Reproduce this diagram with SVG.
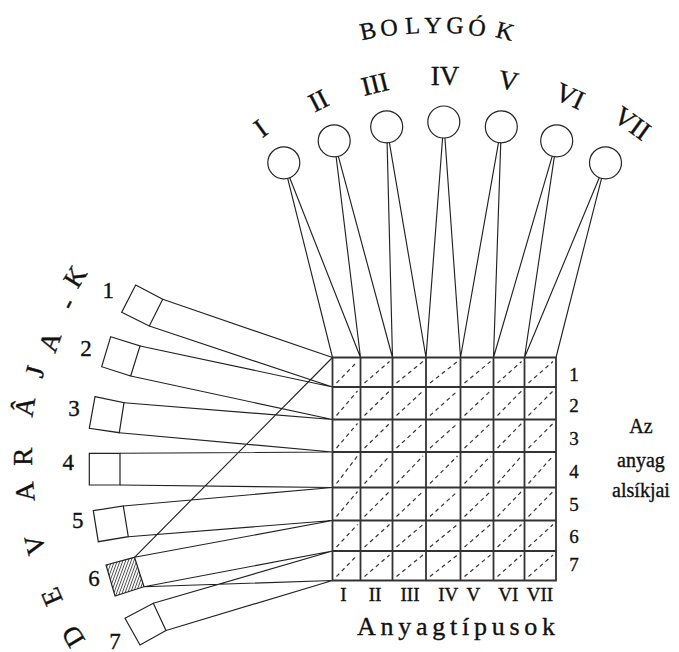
<svg xmlns="http://www.w3.org/2000/svg" width="679" height="652" viewBox="0 0 679 652">
<style>
text{font-family:"Liberation Serif","DejaVu Serif",serif;fill:#111;stroke:#111;stroke-width:0.35}
.c{stroke:#222;stroke-width:1.15;fill:none}
.g{stroke:#333;stroke-width:1.8;fill:none}
.d{stroke:#333;stroke-width:1.2;fill:none;stroke-dasharray:4 3.5}
.n{stroke:#222;stroke-width:1.2;fill:#fff}
.pl{font-size:27px;text-anchor:middle}
.bl{font-size:24px;text-anchor:middle}
.dv{font-size:27px;text-anchor:middle}
.num{font-size:23px;text-anchor:middle}
.rl{font-size:19px;text-anchor:middle}
.side{font-size:20px;text-anchor:middle}
</style>
<defs>
<pattern id="hatch" width="2.6" height="10" patternUnits="userSpaceOnUse" patternTransform="rotate(20)">
<line x1="0.5" y1="0" x2="0.5" y2="10" stroke="#222" stroke-width="0.8"/>
</pattern>
</defs>
<rect width="679" height="652" fill="#fff"/>

<g id="connectors" class="c">
<path d="M283.8 162.8L332.5 357.5M283.8 162.8L360.5 357.5
M334.2 140.8L360.5 357.5M334.2 140.8L392.5 357.5
M386.7 126.8L392.5 357.5M386.7 126.8L426 357.5
M443.8 122L426 357.5M443.8 122L460.5 357.5
M501.3 126.8L460.5 357.5M501.3 126.8L493.5 357.5
M556.7 140.8L493.5 357.5M556.7 140.8L524.5 357.5
M605.5 162.8L524.5 357.5M605.5 162.8L556 357.5"/>
<path d="M162.7 299.3L332.5 357.5M149.3 326L332.5 387
M140 346L332.5 387M130.7 376L332.5 419.5
M124 402.7L332.5 419.5M119.3 432.7L332.5 452
M120 453.3L332.5 452M120 485L332.5 487.5
M123.3 506L332.5 487.5M128.3 536.7L332.5 520.5
M134.5 557.3L332.5 520.5M144 586.7L332.5 551M144 586.7L332.5 580.5
M134.5 557.3L332.5 357.5
M153.3 603.3L332.5 551M166 630.5L332.5 580.5"/>
</g>

<g id="grid">
<path class="d" d="M336.5 383L357.5 361.5M364.5 383L389.5 361.5M396.5 383L423 361.5M430 383L457.5 361.5M464.5 383L490.5 361.5M497.5 383L521.5 361.5M528.5 383L553 361.5
M336.5 415.5L357.5 391M364.5 415.5L389.5 391M396.5 415.5L423 391M430 415.5L457.5 391M464.5 415.5L490.5 391M497.5 415.5L521.5 391M528.5 415.5L553 391
M336.5 448L357.5 423.5M364.5 448L389.5 423.5M396.5 448L423 423.5M430 448L457.5 423.5M464.5 448L490.5 423.5M497.5 448L521.5 423.5M528.5 448L553 423.5
M336.5 483.5L357.5 456M364.5 483.5L389.5 456M396.5 483.5L423 456M430 483.5L457.5 456M464.5 483.5L490.5 456M497.5 483.5L521.5 456M528.5 483.5L553 456
M336.5 516.5L357.5 491.5M364.5 516.5L389.5 491.5M396.5 516.5L423 491.5M430 516.5L457.5 491.5M464.5 516.5L490.5 491.5M497.5 516.5L521.5 491.5M528.5 516.5L553 491.5
M336.5 547L357.5 524.5M364.5 547L389.5 524.5M396.5 547L423 524.5M430 547L457.5 524.5M464.5 547L490.5 524.5M497.5 547L521.5 524.5M528.5 547L553 524.5
M336.5 576.5L357.5 555M364.5 576.5L389.5 555M396.5 576.5L423 555M430 576.5L457.5 555M464.5 576.5L490.5 555M497.5 576.5L521.5 555M528.5 576.5L553 555"/>
<path class="g" d="M332.5 357.5H556V580.5H332.5Z
M360.5 357.5V580.5M392.5 357.5V580.5M426 357.5V580.5M460.5 357.5V580.5M493.5 357.5V580.5M524.5 357.5V580.5
M332.5 387H556M332.5 419.5H556M332.5 452H556M332.5 487.5H556M332.5 520.5H556M332.5 551H556"/>
<text class="rl" x="343.3" y="601">I</text>
<text class="rl" x="375" y="601">II</text>
<text class="rl" x="410" y="601">III</text>
<text class="rl" x="448.3" y="601">IV</text>
<text class="rl" x="473.3" y="601">V</text>
<text class="rl" x="508.3" y="601">VI</text>
<text class="rl" x="540" y="601">VII</text>
<text class="rl" x="574" y="380.5">1</text>
<text class="rl" x="574" y="411.5">2</text>
<text class="rl" x="574" y="444.5">3</text>
<text class="rl" x="574" y="477.5">4</text>
<text class="rl" x="574" y="511">5</text>
<text class="rl" x="574" y="542.5">6</text>
<text class="rl" x="574" y="570.5">7</text>
</g>

<g id="label-anyagtipusok">
<text x="357" y="634.5" font-size="26" textLength="198" lengthAdjust="spacing">Anyagtípusok</text>
</g>
<g id="label-alsikjai">
<text class="side" x="641" y="433">Az</text>
<text class="side" x="641" y="467">anyag</text>
<text class="side" x="641" y="497">alsíkjai</text>
</g>

<g id="planet-1"><circle class="n" cx="283.8" cy="162.8" r="16"/><text class="pl" transform="translate(260.7 128.3) rotate(-36)" y="9">I</text></g>
<g id="planet-2"><circle class="n" cx="334.2" cy="140.8" r="16"/><text class="pl" transform="translate(318.3 100.7) rotate(-27)" y="9">II</text></g>
<g id="planet-3"><circle class="n" cx="386.7" cy="126.8" r="16"/><text class="pl" transform="translate(375 84) rotate(-14)" y="9">III</text></g>
<g id="planet-4"><circle class="n" cx="443.8" cy="122" r="16"/><text class="pl" transform="translate(445 76)" y="9">IV</text></g>
<g id="planet-5"><circle class="n" cx="501.3" cy="126.8" r="16"/><text class="pl" transform="translate(508.3 80.7) rotate(10)" y="9">V</text></g>
<g id="planet-6"><circle class="n" cx="556.7" cy="140.8" r="16"/><text class="pl" transform="translate(570 96) rotate(25)" y="9">VI</text></g>
<g id="planet-7"><circle class="n" cx="605.5" cy="162.8" r="16"/><text class="pl" transform="translate(632.3 123.3) rotate(36)" y="9">VII</text></g>

<g id="title-bolygok">
<text class="bl" transform="translate(368 30.8) rotate(-12)" y="8">B</text>
<text class="bl" transform="translate(389 27.5) rotate(-8)" y="8">O</text>
<text class="bl" transform="translate(412.5 25.5) rotate(-4)" y="8">L</text>
<text class="bl" transform="translate(433 24.5)" y="8">Y</text>
<text class="bl" transform="translate(455 25.3) rotate(3)" y="8">G</text>
<text class="bl" transform="translate(477 27.5) rotate(7)" y="8">Ó</text>
<text class="bl" transform="translate(505 31) rotate(14)" y="8">K</text>
</g>

<g id="devaraja-1"><polygon class="n" points="135.7,285 162.7,299.3 149.3,326 121.7,312.3"/><text class="num" x="108.3" y="298">1</text></g>
<g id="devaraja-2"><polygon class="n" points="110.7,336.7 140,346 130.7,376 101.7,366.7"/><text class="num" x="86" y="356">2</text></g>
<g id="devaraja-3"><polygon class="n" points="95,396.7 124,402.7 119.3,432.7 89.3,428.3"/><text class="num" x="74" y="416">3</text></g>
<g id="devaraja-4"><polygon class="n" points="89.3,453.3 120,453.3 120,485 89.3,485"/><text class="num" x="68.3" y="469.5">4</text></g>
<g id="devaraja-5"><polygon class="n" points="93.3,510.7 123.3,506 128.3,536.7 98.3,541.7"/><text class="num" x="77.7" y="528">5</text></g>
<g id="devaraja-6"><polygon points="106,565 134.5,557.3 144,586.7 115,596" fill="url(#hatch)" stroke="#222" stroke-width="1.2"/><text class="num" x="94" y="586">6</text></g>
<g id="devaraja-7"><polygon class="n" points="125,618.3 153.3,603.3 166,630.5 140,645"/><text class="num" x="115" y="648.5">7</text></g>

<g id="title-devaraja">
<text class="dv" transform="translate(75 276.7) rotate(-58)" y="9">K</text>
<text class="dv" transform="translate(66.7 303.3) rotate(-63)" y="9">-</text>
<text class="dv" transform="translate(50 341.7) rotate(-70)" y="9">A</text>
<text class="dv" transform="translate(35 371.7) rotate(-75)" y="9">J</text>
<text class="dv" transform="translate(25 406.7) rotate(-81)" y="9">Â</text>
<text class="dv" transform="translate(23.3 456.7) rotate(-90)" y="9">R</text>
<text class="dv" transform="translate(25 491.7) rotate(-95)" y="9">A</text>
<text class="dv" transform="translate(35 545) rotate(-104)" y="9">V</text>
<text class="dv" transform="translate(51.7 596.7) rotate(-113)" y="9">E</text>
<text class="dv" transform="translate(73 636.5) rotate(-121)" y="9">D</text>
</g>
</svg>
